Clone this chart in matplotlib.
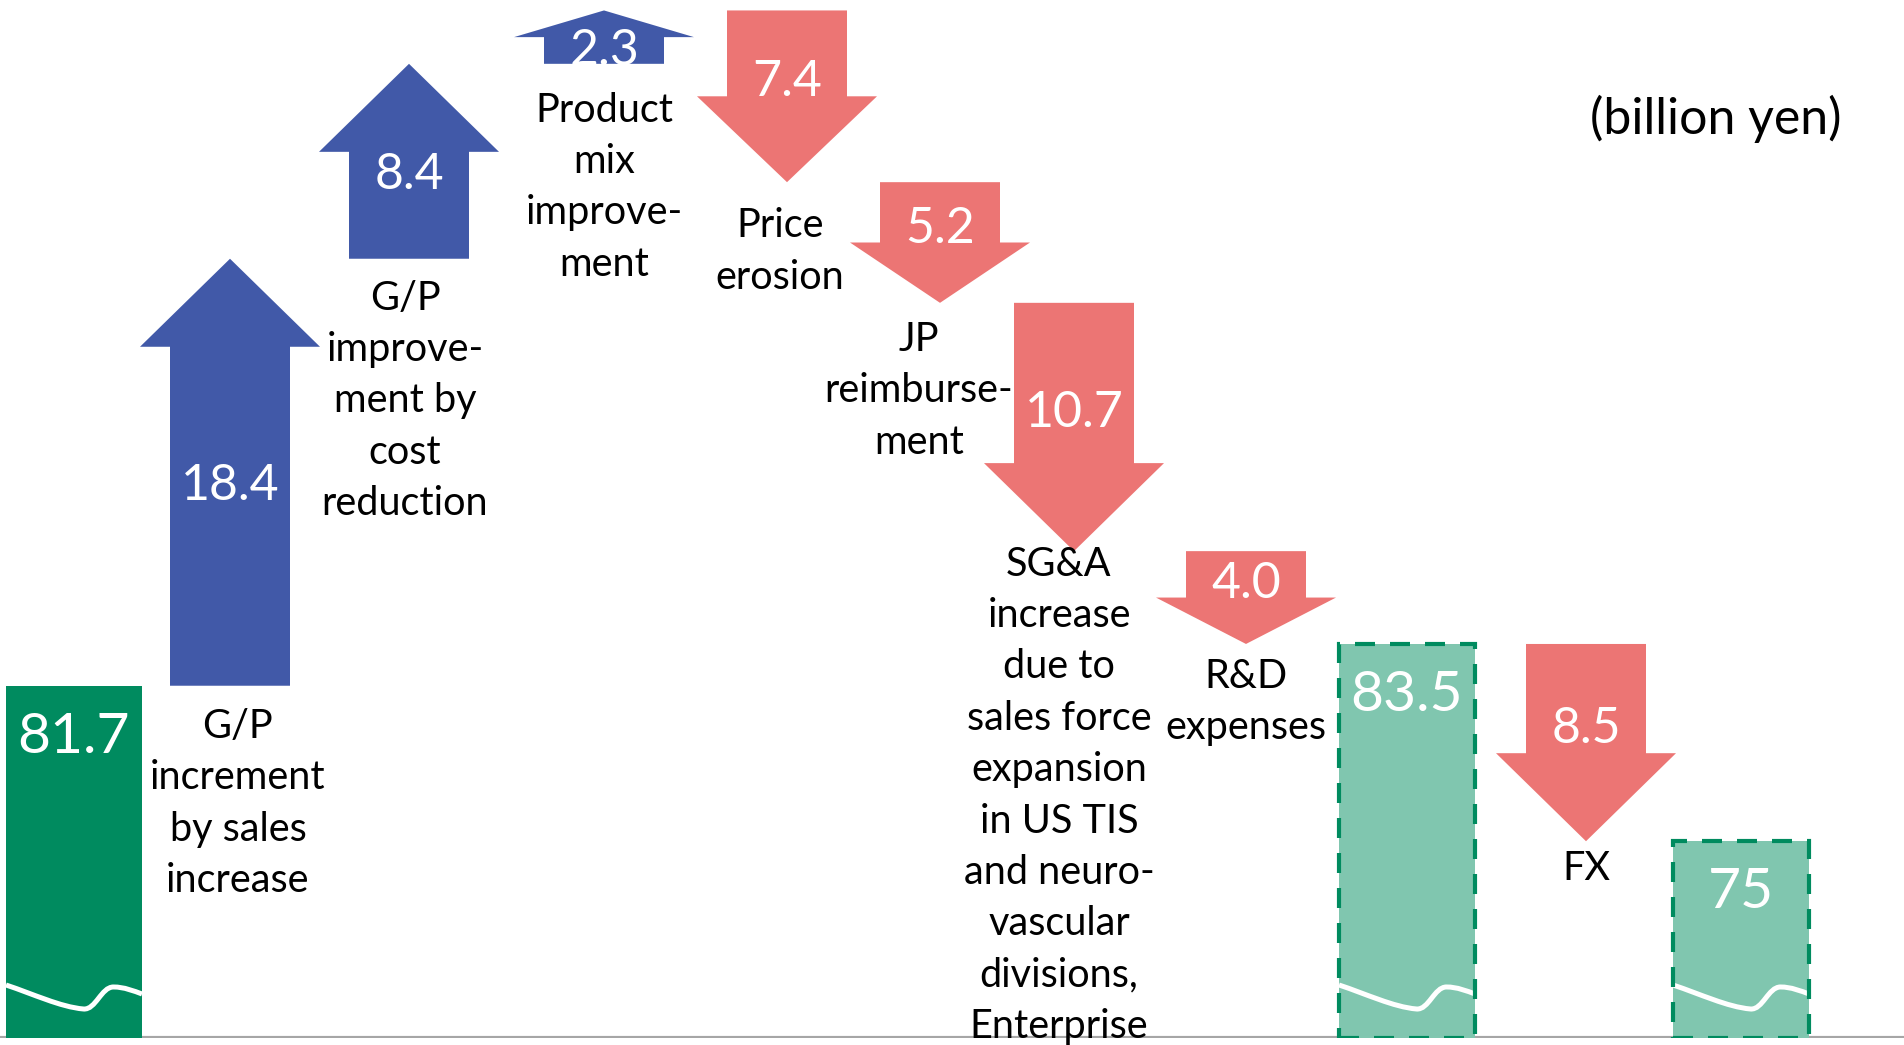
import matplotlib
matplotlib.use("Agg")
import matplotlib.pyplot as plt
from matplotlib.patches import Polygon, Rectangle, PathPatch
from matplotlib.path import Path

plt.rcParams['font.family'] = ['Lato', 'DejaVu Sans']

# data (billion yen)
start_value = 81.7
changes = [18.4, 8.4, 2.3, -7.4, -5.2, -10.7, -4.0]
change_labels = ["G/P\nincrement\nby sales\nincrease",
                 "G/P\nimprove-\nment by\ncost\nreduction",
                 "Product\nmix\nimprove-\nment",
                 "Price\nerosion",
                 "JP\nreimburse-\nment",
                 "SG&A\nincrease\ndue to\nsales force\nexpansion\nin US TIS\nand neuro-\nvascular\ndivisions,\nEnterprise",
                 "R&D\nexpenses"]
mid_value = 83.5
fx_change = -8.5
fx_label = "FX"
end_value = 75

# layout: x centres in pixels, label nudges (dx pixels, dy points)
bar_x = [74, 1407, 1741]
arrow_x = [230, 409, 604, 787, 940, 1074, 1246]
label_dx = [8, -4, 0, -7, -21, -15, 0]
label_dy = [-16, -15, -20, -18, -13, 4, -10]
fx_x = 1586

BLUE = '#4159a8'
RED = '#ec7574'
GREEN = '#008b5f'
LIGHT = '#80c6af'
PX = 23.2  # pixels per billion yen
Y0, Y1 = 66.52, 111.25

fig = plt.figure(figsize=(19.04, 10.45), dpi=100)
ax = fig.add_axes([0, 7 / 1045, 1, 1038 / 1045])
ax.set_xlim(0, 1904)
ax.set_ylim(Y0, Y1)
ax.axis('off')

SW, HW, HL = 120, 180, 88 / PX


def draw_arrow(x, y0, y1, color):
    d = y1 - y0
    s = 1 if d > 0 else -1
    hl = min(abs(d) * 0.5, HL)
    sh = y1 - s * hl
    pts = [(x - SW / 2, y0), (x + SW / 2, y0), (x + SW / 2, sh), (x + HW / 2, sh),
           (x, y1), (x - HW / 2, sh), (x - SW / 2, sh)]
    ax.add_patch(Polygon(pts, closed=True, fc=color, ec='none', zorder=3))
    ax.annotate(f"{abs(d):.1f}", (x, (y0 + y1) / 2), xytext=(0, -s * 10),
                textcoords='offset points', ha='center', va='center',
                color='white', fontsize=36, zorder=5)


def draw_wave(x, w):
    # white break line near the bottom of a bar (pixel offsets above baseline)
    fr = [(0, 53), (0.2, 44), (0.4, 31), (0.57, 29), (0.66, 28), (0.7, 51), (0.79, 51),
          (0.87, 51), (0.94, 47), (1.0, 44)]
    verts = [(x - w / 2 + f * w, Y0 + p / PX) for f, p in fr]
    codes = [Path.MOVETO] + [Path.CURVE4] * 9
    ax.add_patch(PathPatch(Path(verts, codes), fc='none', ec='white', lw=3.6,
                           capstyle='butt', zorder=4))


def draw_bar(x, v, dashed):
    w = 136
    if dashed:
        ax.add_patch(Rectangle((x - w / 2, Y0), w, v - Y0, fc=LIGHT, ec='none', zorder=2))
        ax.add_patch(Rectangle((x - w / 2, Y0), w, v - Y0, fc='none', ec=GREEN, lw=3,
                               ls=(0, (4.8, 3.6)), zorder=4.5))
    else:
        ax.add_patch(Rectangle((x - w / 2, Y0), w, v - Y0, fc=GREEN, ec='none', zorder=2))
    draw_wave(x, w)
    ax.annotate(f"{v:g}", (x, v), xytext=(0, -37), textcoords='offset points',
                ha='center', va='center', color='white', fontsize=41, zorder=5)


# axis line
ax.axhline(Y0, color='#a6a6a6', lw=3, zorder=1)

draw_bar(bar_x[0], start_value, False)
level = start_value
for x, c, lab, dx, dy in zip(arrow_x, changes, change_labels, label_dx, label_dy):
    draw_arrow(x, level, level + c, BLUE if c > 0 else RED)
    low = min(level, level + c)
    ax.annotate(lab, (x + dx, low), xytext=(0, dy), textcoords='offset points',
                ha='center', va='top', fontsize=28.5, linespacing=1.48, zorder=3)
    level += c

draw_bar(bar_x[1], mid_value, True)
draw_arrow(fx_x, mid_value, mid_value + fx_change, RED)
ax.annotate(fx_label, (fx_x, mid_value + fx_change), xytext=(0, -6),
            textcoords='offset points', ha='center', va='top', fontsize=28.5)
draw_bar(bar_x[2], end_value, True)

fig.text(1716 / 1904, 1 - 119 / 1045, "(billion yen)", ha='center', va='center', fontsize=36)

fig.savefig('out.png', dpi=100)
